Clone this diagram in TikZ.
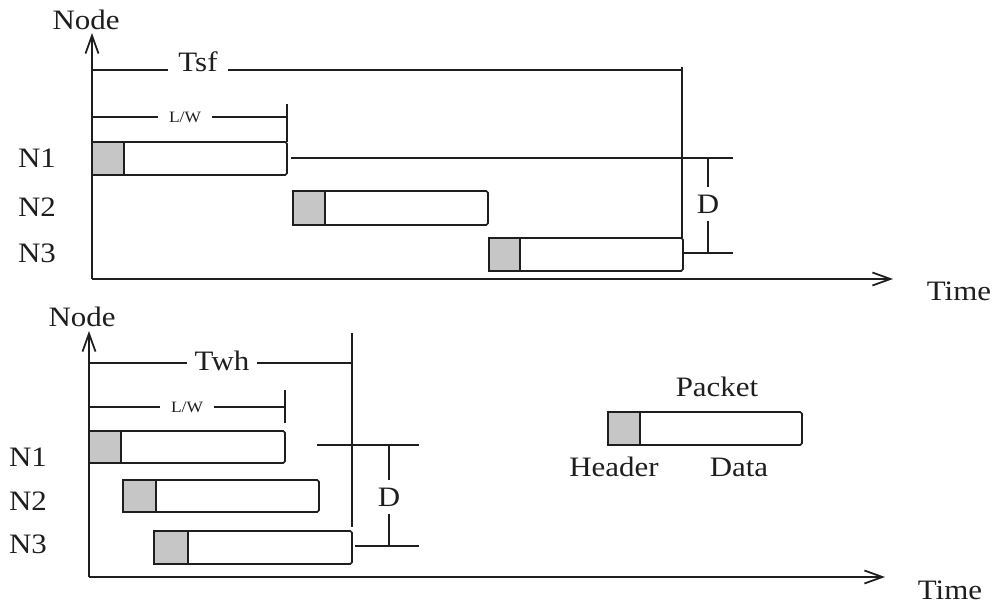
\documentclass[tikz,border=0pt]{standalone}
\usepackage{fontspec}
\setmainfont{Liberation Serif}[FakeStretch=1.1]
\usetikzlibrary{arrows.meta}
\definecolor{ink}{HTML}{1E1E1E}
\definecolor{hdrgray}{HTML}{C6C6C6}

\tikzset{
  axis/.style={ink, line width=1pt, -{Straight Barb[length=3.6mm, width=2.6mm]}},
  dim/.style={ink, line width=0.8pt},
  pkt/.style={draw=ink, line width=1pt, rounded corners=1pt},
  hdr/.style={draw=ink, fill=hdrgray, line width=1pt},
  lbl/.style={font=\fontsize{16}{19}\selectfont, text=ink, inner sep=2pt},
  smalllbl/.style={font=\fontsize{9}{11}\selectfont, text=ink, inner ysep=2pt, inner xsep=6pt},
}

\begin{document}
\begin{tikzpicture}[x=0.02cm, y=-0.02cm]

% Background
\useasboundingbox (0,0) rectangle (995,608);
\fill[white] (0,0) rectangle (995,608);

% =========== TOP PANEL: Tsf ===========
\draw[axis] (92,279) -- (92,33);
\draw[axis] (92,279) -- (893,279);
\node[lbl] (nodeA) at (86,20) {Node};
\node[lbl] (timeA) at (959,291) {Time};

% Node labels
\node[lbl] (nA1) at (37,158) {N1};
\node[lbl] (nA2) at (37,207) {N2};
\node[lbl] (nA3) at (37,253) {N3};

% Tsf span
\node[lbl, inner xsep=6pt] (tsf) at (198,62) {Tsf};
\coordinate (tsfline) at (0,70);
\draw[dim] (92,70) -- (tsf.west |- tsfline);
\draw[dim] (tsf.east |- tsfline) -- (682,70);
\draw[dim] (682,67) -- (682,238);

% L/W span
\node[smalllbl] (lwA) at (185,117) {L/W};
\draw[dim] (92,117) -- (lwA.west);
\draw[dim] (lwA.east) -- (287,117);
\draw[dim] (287,104) -- (287,142);

% Packets
\draw[pkt] (92,142) rectangle (287,175);
\filldraw[hdr] (92,142) rectangle (124,175);
\draw[pkt] (293,191) rectangle (488,225);
\filldraw[hdr] (293,191) rectangle (325,225);
\draw[pkt] (489,238) rectangle (683,271);
\filldraw[hdr] (489,238) rectangle (520,271);

% D span
\draw[dim] (291,158) -- (733,158);
\draw[dim] (683,253) -- (733,253);
\node[lbl, inner sep=4pt] (dA) at (708,204) {D};
\draw[dim] (708,158) -- (dA.north);
\draw[dim] (dA.south) -- (708,253);

% =========== BOTTOM PANEL: Twh ===========
\draw[axis] (89,577) -- (89,331);
\draw[axis] (89,577) -- (885,577);
\node[lbl] (nodeB) at (82,317) {Node};
\node[lbl] (timeB) at (950,590) {Time};

% Node labels
\node[lbl] (nB1) at (28,457) {N1};
\node[lbl] (nB2) at (28,501) {N2};
\node[lbl] (nB3) at (28,544) {N3};

% Twh span
\node[lbl, inner xsep=4pt] (twh) at (222,361) {Twh};
\coordinate (twhline) at (0,363);
\draw[dim] (89,363) -- (twh.west |- twhline);
\draw[dim] (twh.east |- twhline) -- (352,363);
\draw[dim] (352,333) -- (352,527);

% L/W span
\node[smalllbl] (lwB) at (187,407) {L/W};
\draw[dim] (89,407) -- (lwB.west);
\draw[dim] (lwB.east) -- (285,407);
\draw[dim] (285,390) -- (285,423);

% Packets
\draw[pkt] (89,431) rectangle (285,463);
\filldraw[hdr] (89,431) rectangle (121,463);
\draw[pkt] (123,480) rectangle (319,512);
\filldraw[hdr] (123,480) rectangle (156,512);
\draw[pkt] (154,531) rectangle (352,564);
\filldraw[hdr] (154,531) rectangle (188,564);

% D span
\draw[dim] (317,445) -- (419,445);
\draw[dim] (355,546) -- (419,546);
\node[lbl, inner sep=4pt] (dB) at (389,497) {D};
\draw[dim] (389,445) -- (dB.north);
\draw[dim] (dB.south) -- (389,546);

% =========== LEGEND ===========
\node[lbl] (packet) at (717,387) {Packet};
\draw[pkt] (608,412) rectangle (802,445);
\filldraw[hdr] (608,412) rectangle (640,445);
\node[lbl] (header) at (614,467) {Header};
\node[lbl] (data) at (739,467) {Data};

\end{tikzpicture}
\end{document}
